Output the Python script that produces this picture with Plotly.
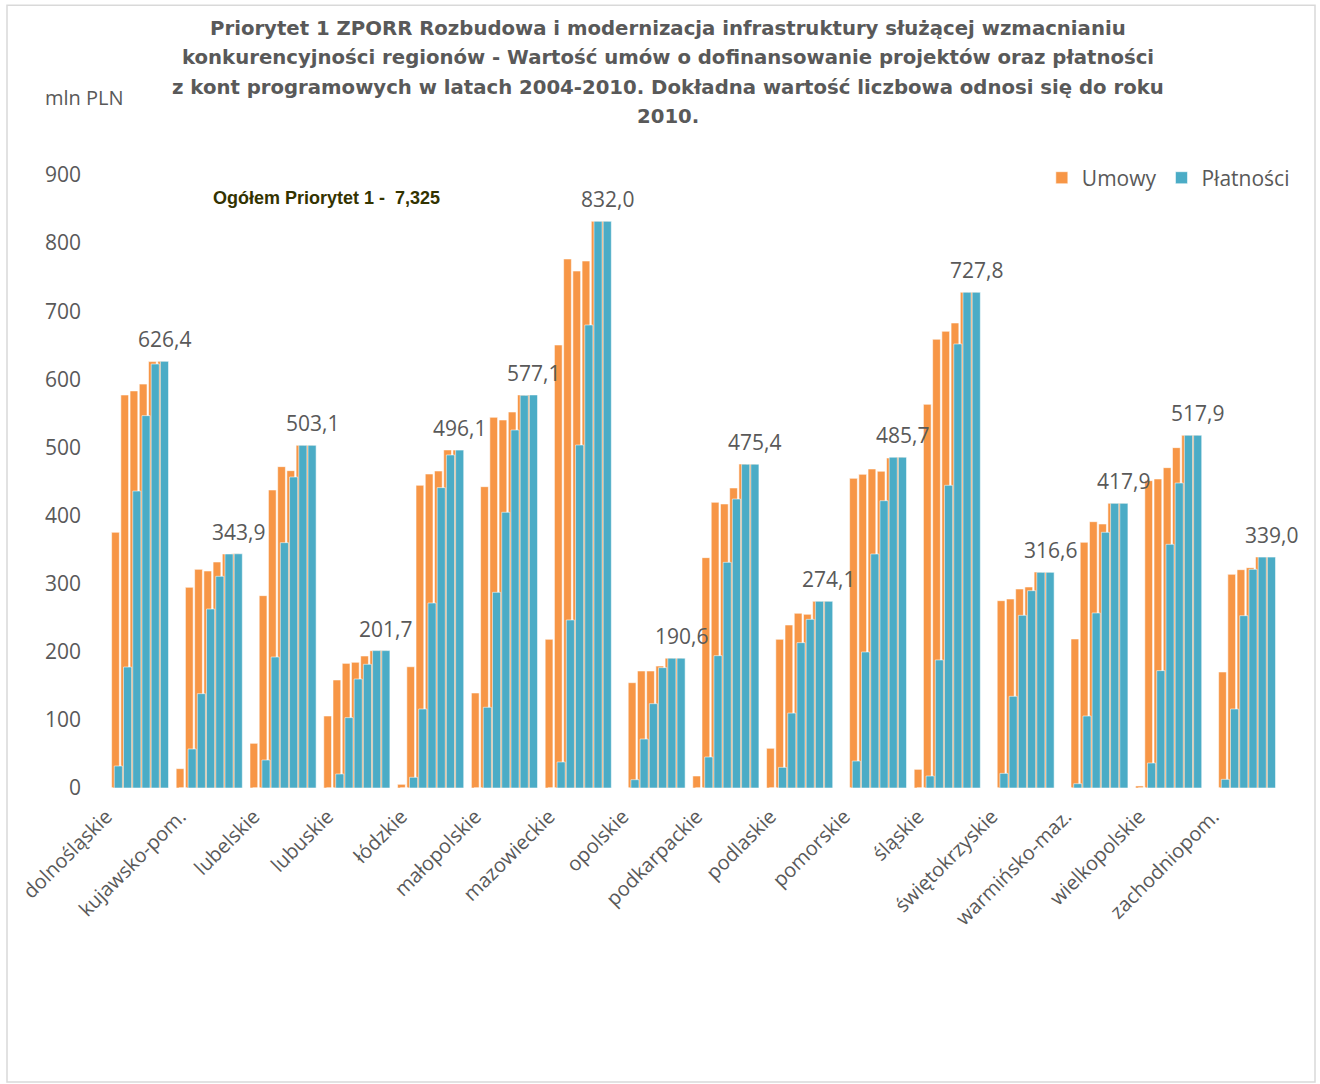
import plotly.graph_objects as go

regiony = ["dolnośląskie", "kujawsko-pom.", "lubelskie", "lubuskie", "łódzkie", "małopolskie",
           "mazowieckie", "opolskie", "podkarpackie", "podlaskie", "pomorskie", "śląskie",
           "świętokrzyskie", "warmińsko-maz.", "wielkopolskie", "zachodniopom."]
lata = [2004, 2005, 2006, 2007, 2008, 2009, 2010]

# Umowy (mln PLN), one list per year, order as regiony
umowy_2004 = [0, 28.4, 65.6, 105.7, 5.4, 139.5, 218.3, 0, 17.6, 58.3, 0, 27.4, 0, 0, 3.0, 0]
umowy_2005 = [375.4, 294.6, 282.4, 158.6, 178.0, 442.4, 650.4, 154.6, 338.2, 218.3, 454.6, 563.3, 275.0, 218.8, 451.2, 170.3]
umowy_2006 = [577.0, 321.0, 437.5, 183.0, 444.4, 544.2, 776.7, 171.8, 419.4, 239.3, 460.5, 658.8, 277.5, 360.7, 453.7, 313.7]
umowy_2007 = [583.0, 318.6, 471.8, 184.5, 461.0, 540.3, 759.0, 171.8, 417.0, 256.5, 468.4, 670.5, 292.2, 391.0, 470.3, 320.5]
umowy_2008 = [593.0, 331.8, 465.9, 193.8, 465.4, 552.0, 773.7, 179.0, 440.5, 255.0, 465.0, 682.7, 295.1, 387.6, 499.7, 323.5]
umowy_2009 = [626.0, 343.6, 503.1, 201.6, 496.3, 577.1, 832.0, 190.6, 475.7, 274.1, 484.5, 727.8, 317.1, 418.0, 517.8, 339.2]
umowy_2010 = [626.4, 343.9, 503.1, 201.7, 496.1, 577.1, 832.0, 190.6, 475.4, 274.1, 485.7, 727.8, 316.6, 417.9, 517.9, 339.0]

# Płatności (mln PLN)
platnosci_2004 = [0, 0, 0, 0, 0, 0, 0, 0, 0, 0, 0, 0, 0, 0, 0, 0]
platnosci_2005 = [32.3, 57.3, 41.1, 20.6, 15.7, 118.5, 38.2, 12.2, 45.5, 30.3, 39.6, 17.6, 21.5, 6.3, 36.7, 12.7]
platnosci_2006 = [177.6, 138.5, 192.3, 103.3, 116.0, 287.3, 246.7, 71.9, 194.3, 110.0, 199.7, 188.0, 134.6, 105.7, 172.3, 116.0]
platnosci_2007 = [436.0, 262.8, 360.2, 160.0, 271.6, 404.8, 503.6, 123.8, 331.3, 213.4, 343.6, 444.4, 253.5, 257.0, 357.8, 253.0]
platnosci_2008 = [546.7, 310.8, 456.6, 181.6, 441.0, 525.6, 679.8, 176.7, 424.3, 247.6, 421.8, 651.9, 289.7, 375.4, 447.8, 321.1]
platnosci_2009 = [622.5, 343.6, 503.1, 201.7, 489.0, 576.5, 832.0, 190.6, 475.4, 274.1, 485.7, 727.8, 316.6, 417.9, 517.9, 339.0]
platnosci_2010 = [626.4, 343.9, 503.1, 201.7, 496.1, 577.1, 832.0, 190.6, 475.4, 274.1, 485.7, 727.8, 316.6, 417.9, 517.9, 339.0]

ogolem_tekst = "Ogółem Priorytet 1 -  7,325"
y_ticks = [0, 100, 200, 300, 400, 500, 600, 700, 800, 900]

umowy = [umowy_2004, umowy_2005, umowy_2006, umowy_2007, umowy_2008, umowy_2009, umowy_2010]
platnosci = [platnosci_2004, platnosci_2005, platnosci_2006, platnosci_2007,
             platnosci_2008, platnosci_2009, platnosci_2010]

SLOTS = 8
OFF = 0.31
xo, yo, xt, yt = [], [], [], []
for g in range(len(regiony)):
    for j in range(len(lata)):
        k = g * SLOTS + j
        xo.append(k)
        yo.append(umowy[j][g])
        xt.append(k + OFF)
        yt.append(platnosci[j][g])

GRAY = "#595959"
fig = go.Figure()
fig.add_trace(go.Bar(
    x=xo, y=yo, width=0.84, name="Umowy", opacity=1,
    marker=dict(color="#F79646", line=dict(color="rgba(255,255,255,0.55)", width=1)),
    hoverinfo="skip"))
fig.add_trace(go.Bar(
    x=xt, y=yt, width=0.88, name="Płatności", opacity=1,
    marker=dict(color="#4BACC6", line=dict(color="rgba(255,255,255,0.55)", width=1)),
    hoverinfo="skip"))

annotations = []
# data labels (2010 values)
for g, v in enumerate(platnosci_2010):
    annotations.append(dict(
        x=g * SLOTS + 6 + OFF, y=v, xref="x", yref="y", text=f"{v:.1f}".replace(".", ","),
        showarrow=False, yanchor="bottom", yshift=6,
        font=dict(family="Open Sans", size=21, color=GRAY)))

# title lines
title_lines = [
    "Priorytet 1 ZPORR Rozbudowa i modernizacja infrastruktury służącej wzmacnianiu",
    "konkurencyjności regionów - Wartość umów o dofinansowanie projektów oraz płatności",
    "z kont programowych w latach 2004-2010. Dokładna wartość liczbowa odnosi się do roku",
    "2010.",
]
line_y = [28, 57, 87, 116]
for t, py in zip(title_lines, line_y):
    annotations.append(dict(
        x=(668 - 100) / 1183, y=(788 - py) / 613.2, xref="paper", yref="paper",
        text="<b>" + t + "</b>", showarrow=False, xanchor="center", yanchor="middle",
        font=dict(family="DejaVu Sans", size=19.7, color=GRAY)))

annotations.append(dict(
    x=(84 - 100) / 1183, y=(788 - 97) / 613.2, xref="paper", yref="paper",
    text="mln PLN", showarrow=False, xanchor="center", yanchor="middle",
    font=dict(family="Open Sans", size=20, color=GRAY)))

annotations.append(dict(
    x=(211 - 100) / 1183, y=(788 - 198) / 613.2, xref="paper", yref="paper",
    text="<b>" + ogolem_tekst + "</b>", showarrow=False, xanchor="left", yanchor="middle",
    font=dict(family="Liberation Sans", size=18, color="#333300")))

fig.update_layout(
    width=1320, height=1084,
    margin=dict(l=100, r=37, t=175, b=296),
    paper_bgcolor="white", plot_bgcolor="white",
    barmode="overlay",
    font=dict(family="Open Sans", color=GRAY),
    showlegend=True,
    legend=dict(orientation="h", x=1.01, xanchor="right", y=0.995, yanchor="middle",
                font=dict(family="Open Sans", size=21, color=GRAY),
                bgcolor="rgba(0,0,0,0)"),
    annotations=annotations,
    shapes=[dict(type="rect", xref="paper", yref="paper",
                 x0=(7 - 100) / 1183, x1=(1315 - 100) / 1183,
                 y0=(788 - 1082) / 613.2, y1=(788 - 5) / 613.2,
                 line=dict(color="#D9D9D9", width=1.5))],
)
fig.update_xaxes(
    range=[-0.678, 127.56], tickmode="array",
    tickvals=[g * SLOTS for g in range(len(regiony))], ticktext=regiony,
    tickangle=-45, tickfont=dict(family="Open Sans", size=20, color=GRAY),
    showgrid=False, zeroline=False, showline=False, ticks="", ticklabelstandoff=12)
fig.update_yaxes(
    range=[0, 900], tickmode="array", tickvals=y_ticks,
    tickfont=dict(family="Open Sans", size=21, color=GRAY),
    showgrid=False, zeroline=False, showline=False, ticks="", ticklabelstandoff=18)

fig.write_html("out.html")
